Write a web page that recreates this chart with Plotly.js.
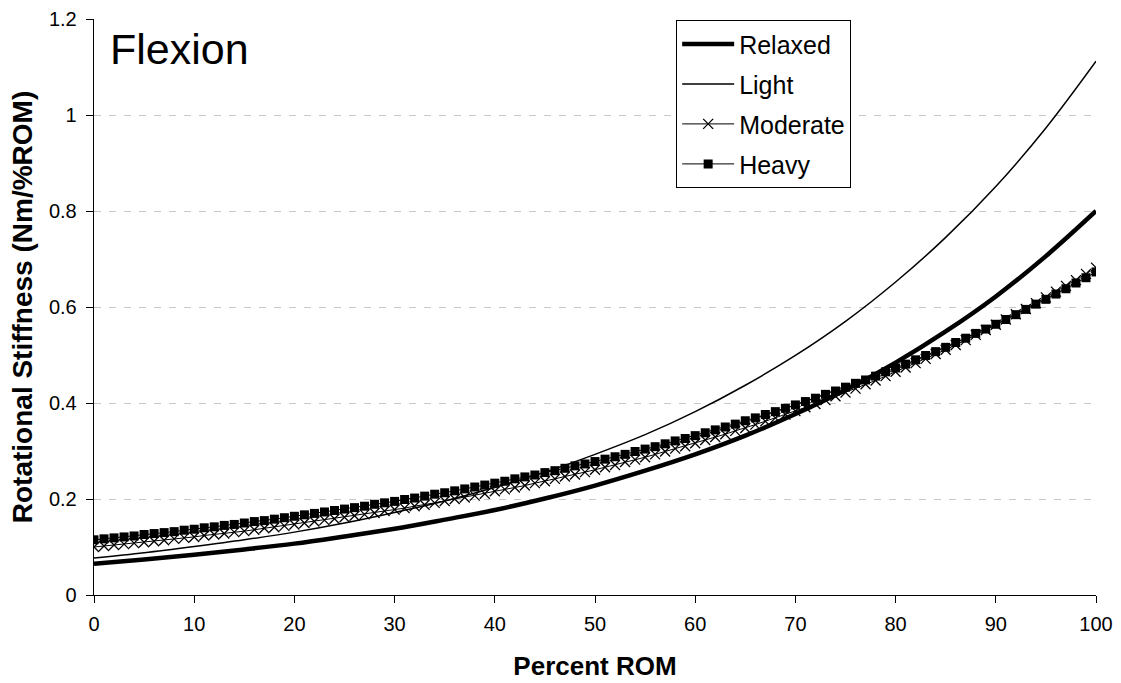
<!DOCTYPE html>
<html>
<head>
<meta charset="utf-8">
<script src="https://cdn.plot.ly/plotly-3.0.1.min.js"></script>
<style>html,body{margin:0;padding:0;background:#fff;}#chart{width:1121px;height:683px;}</style>
</head>
<body>
<div id="chart"></div>
<script>
// Percent ROM (every 1 %) for the marker series
const pct = [0,1,2,3,4,5,6,7,8,9,10,11,12,13,14,15,16,17,18,19,20,21,22,23,24,25,26,27,28,29,30,31,32,33,34,35,36,37,38,39,40,41,42,43,44,45,46,47,48,49,50,51,52,53,54,55,56,57,58,59,60,61,62,63,64,65,66,67,68,69,70,71,72,73,74,75,76,77,78,79,80,81,82,83,84,85,86,87,88,89,90,91,92,93,94,95,96,97,98,99,100];
// Percent ROM (every 5 %) for the plain-line series
const pct5 = [0,5,10,15,20,25,30,35,40,45,50,55,60,65,70,75,80,85,90,95,100];

const relaxed = [0.065,0.074,0.084,0.095,0.107,0.122,0.138,0.157,0.177,0.201,0.228,0.259,0.293,0.332,0.377,0.427,0.484,0.549,0.622,0.706,0.800];
const light   = [0.077,0.088,0.101,0.115,0.131,0.150,0.172,0.196,0.224,0.256,0.293,0.334,0.382,0.437,0.499,0.570,0.652,0.745,0.851,0.973,1.112];

const moderate = [0.100,0.102,0.104,0.106,0.108,0.110,0.112,0.114,0.117,0.119,0.121,0.124,0.126,0.128,0.131,0.133,0.136,0.139,0.141,0.144,
0.147,0.150,0.153,0.156,0.159,0.162,0.165,0.168,0.171,0.175,0.178,0.181,0.185,0.188,0.192,0.196,0.200,0.203,0.207,0.211,
0.216,0.220,0.224,0.228,0.233,0.237,0.242,0.247,0.251,0.256,0.261,0.266,0.271,0.277,0.282,0.287,0.293,0.299,0.305,0.310,
0.316,0.323,0.329,0.335,0.342,0.348,0.355,0.362,0.369,0.376,0.383,0.391,0.398,0.406,0.414,0.422,0.430,0.439,0.447,0.456,
0.465,0.474,0.483,0.492,0.502,0.511,0.521,0.531,0.542,0.552,0.563,0.574,0.585,0.596,0.608,0.620,0.632,0.644,0.656,0.669,0.682];

const heavy = [0.115,0.117,0.119,0.121,0.123,0.126,0.128,0.130,0.132,0.135,0.137,0.140,0.142,0.145,0.147,0.150,0.153,0.155,0.158,0.161,
0.164,0.167,0.170,0.173,0.176,0.179,0.182,0.185,0.189,0.192,0.195,0.199,0.202,0.206,0.210,0.213,0.217,0.221,0.225,0.229,
0.233,0.237,0.242,0.246,0.250,0.255,0.259,0.264,0.269,0.273,0.278,0.283,0.288,0.293,0.299,0.304,0.309,0.315,0.321,0.326,
0.332,0.338,0.344,0.350,0.356,0.363,0.369,0.376,0.382,0.389,0.396,0.403,0.410,0.418,0.425,0.433,0.441,0.448,0.456,0.465,
0.473,0.481,0.490,0.499,0.507,0.516,0.526,0.535,0.545,0.554,0.564,0.574,0.584,0.595,0.606,0.616,0.627,0.638,0.650,0.661,0.673];

const seriesNames = ["Relaxed","Light","Moderate","Heavy"];
const FONT = "Liberation Sans, Arial, Helvetica, sans-serif";

const traces = [
  {x: pct5, y: relaxed, name: seriesNames[0], mode: "lines", legendgroup: "a",
   line: {color: "#000", width: 4.5, shape: "spline"}},
  {x: pct5, y: light, name: seriesNames[1], mode: "lines", legendgroup: "b",
   line: {color: "#000", width: 1.5, shape: "spline"}},
  {x: pct, y: moderate, name: seriesNames[2], mode: "lines+markers", legendgroup: "c",
   line: {color: "#000", width: 1},
   marker: {symbol: "x-thin-open", size: 10, color: "#000", line: {color: "#000", width: 1.3}}},
  {x: pct, y: heavy, name: seriesNames[3], mode: "lines+markers", legendgroup: "d",
   line: {color: "#000", width: 1},
   marker: {symbol: "square", size: 9, color: "#000", line: {width: 0}}}
];

const layout = {
  width: 1121, height: 683,
  paper_bgcolor: "#fff", plot_bgcolor: "#fff",
  margin: {l: 94, r: 25, t: 19, b: 88, pad: 0},
  font: {family: FONT, color: "#000", size: 20},
  showlegend: true,
  legend: {
    x: 0.581, y: 0.998, xanchor: "left", yanchor: "top",
    bordercolor: "#000", borderwidth: 1, bgcolor: "#fff",
    font: {family: FONT, size: 25, color: "#000"},
    tracegroupgap: 4.5, traceorder: "grouped", itemwidth: 52
  },
  xaxis: {
    range: [0, 100], dtick: 10, tick0: 0,
    showline: true, linecolor: "#000", linewidth: 1.3,
    ticks: "outside", ticklen: 7, tickcolor: "#000", tickwidth: 1,
    ticklabelstandoff: 4,
    showgrid: false, zeroline: false,
    tickfont: {family: FONT, size: 20, color: "#000"},
    title: {text: "Percent ROM", font: {family: FONT, size: 26, color: "#000", weight: "bold"}, standoff: 22}
  },
  yaxis: {
    range: [0, 1.2], dtick: 0.2, tick0: 0,
    showline: true, linecolor: "#000", linewidth: 1.3,
    ticks: "outside", ticklen: 7, tickcolor: "#000", tickwidth: 1,
    ticklabelstandoff: 5,
    showgrid: true, gridcolor: "#c8c8c8", gridwidth: 1, griddash: "7px,8px",
    zeroline: false,
    tickfont: {family: FONT, size: 20, color: "#000"},
    title: {text: "Rotational Stiffness (Nm/%ROM)", font: {family: FONT, size: 28, color: "#000", weight: "bold"}, standoff: 8}
  },
  annotations: [
    {text: "Flexion", xref: "paper", yref: "paper", x: 0.014, y: 1, xanchor: "left", yanchor: "top",
     yshift: -4, showarrow: false, font: {family: FONT, size: 43, color: "#000"}}
  ]
};

Plotly.newPlot("chart", traces, layout, {displayModeBar: false, staticPlot: true});
</script>
</body>
</html>
